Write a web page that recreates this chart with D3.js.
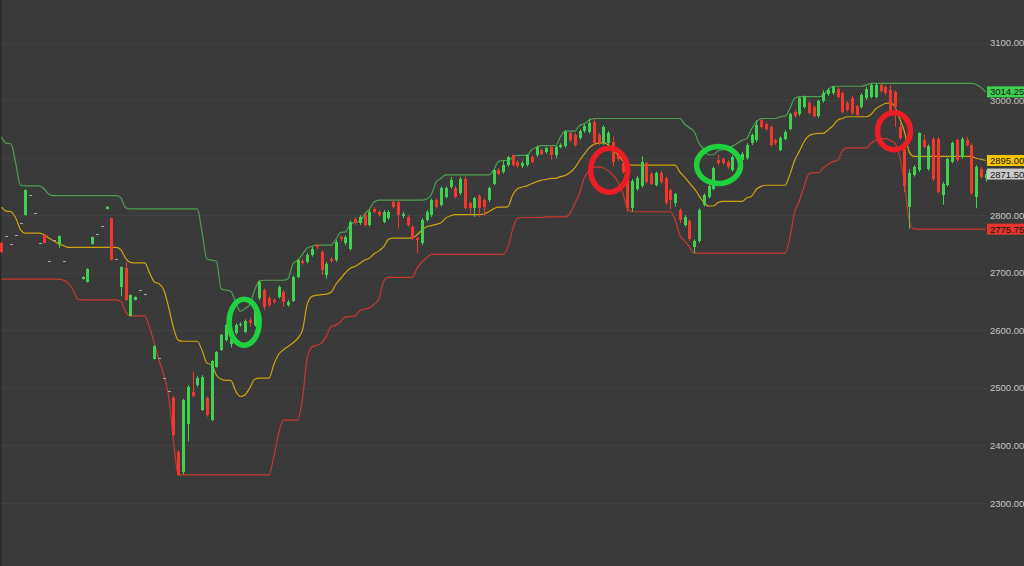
<!DOCTYPE html>
<html><head><meta charset="utf-8">
<script src="https://cdn.jsdelivr.net/npm/d3@7"></script>
<style>html,body{margin:0;padding:0;background:#3a3a3a;overflow:hidden}</style>
</head><body><svg id="c" width="1024" height="566"></svg>
<script>
const open=[
2752,2764,2750,2766,2786,2800,2835,2804,2752,2766,
2720,2757,2750,2720,null,null,null,2689,2684,2750,
2767,2781,2811,2795,2724,2675,2708,2625,2653,2670,
2663,null,2551,2552,2518,2494,2482,2389,2354,2438,
2492,2505,2462,2482,2444,2537,2566,2583,2576,2595,
2609,2597,2618,2609,2656,2670,2656,2652,2658,2667,
2644,2651,2693,2721,2719,2731,2748,2736,2696,2724,
2722,2762,2751,2742,2794,2786,2800,2783,2811,2806,
2789,2795,2823,2823,2798,2797,2780,2760,2751,2792,
2800,2826,2818,2832,2849,2847,2838,2862,2821,2812,
2833,2826,2826,2855,2878,2875,2887,2905,2893,2885,
2887,2901,2904,2913,2910,2919,2904,2919,2920,2942,
2940,2934,2946,2945,2962,2940,2925,2925,2928,2905,
2890,2865,2812,2845,2851,2890,2872,2853,2873,2864,
2843,2822,2809,2783,2790,2745,2755,2818,2832,2846,
2896,2897,2893,2878,2898,2896,2899,2925,2930,2965,
2958,2953,2930,2914,2933,2950,2980,2975,2988,2995,
2988,2972,2998,3010,3012,3020,3012,2995,3004,2989,
2988,3003,3006,3006,3026,3023,3018,3014,2954,2915,
2815,2870,2878,2930,2880,2933,2933,2835,2853,2893,
2930,2901,2930,2922,2832,2881,2864];
const close=[
2736,2764,2750,2766,2786,2844,2835,2804,2752,2752,
2720,2757,2764,2720,null,null,null,2693,2707,2762,
2767,2781,2815,2722,2724,2710,2653,2661,2658,2670,
2663,null,2572,2552,2518,2494,2418,2348,2479,2502,
2486,2517,2519,2453,2546,2562,2592,2609,2585,2609,
2611,2616,2612,2638,2684,2641,2644,2649,2676,2650,
2650,2693,2722,2717,2731,2742,2744,2705,2716,2720,
2754,2758,2762,2789,2786,2797,2783,2806,2806,2801,
2806,2806,2815,2800,2802,2783,2760,2757,2792,2806,
2826,2815,2847,2847,2861,2832,2862,2813,2812,2829,
2812,2815,2847,2878,2872,2887,2901,2887,2885,2891,
2904,2893,2919,2907,2916,2904,2919,2922,2945,2930,
2922,2946,2955,2960,2925,2925,2953,2943,2893,2897,
2875,2812,2860,2865,2892,2858,2855,2873,2857,2821,
2826,2836,2792,2797,2758,2755,2809,2835,2850,2882,
2890,2891,2884,2901,2900,2907,2922,2939,2956,2954,
2950,2922,2925,2934,2945,2975,2972,3003,3005,2978,
2972,2998,3012,3018,3022,3006,2980,2983,2977,2974,
3009,3020,3026,3027,3015,3012,2977,2988,2934,2850,
2873,2884,2942,2919,2920,2862,2841,2855,2897,2925,
2896,2933,2922,2838,2884,2867,2871.5];
const high=[
2754,2764,2750,2766,2786,2845,2835,2804,2752,2767,
2720,2757,2765,2720,null,null,null,2694,2708,2763,
2767,2781,2816,2796,2724,2711,2719,2662,2659,2670,
2663,null,2574,2552,2518,2494,2486,2392,2481,2505,
2528,2521,2522,2485,2548,2564,2594,2611,2590,2612,
2614,2619,2622,2640,2686,2673,2660,2655,2678,2670,
2653,2695,2724,2724,2734,2745,2750,2739,2719,2727,
2757,2765,2765,2791,2797,2800,2803,2809,2814,2809,
2809,2809,2826,2825,2806,2800,2783,2763,2795,2809,
2829,2829,2850,2850,2866,2850,2867,2868,2824,2832,
2836,2829,2850,2880,2882,2895,2903,2906,2896,2894,
2906,2904,2921,2916,2919,2921,2921,2925,2947,2945,
2943,2949,2958,2968,2968,2943,2956,2946,2937,2908,
2893,2868,2863,2868,2902,2893,2875,2876,2876,2867,
2846,2839,2812,2800,2793,2758,2812,2838,2853,2885,
2905,2900,2896,2904,2903,2910,2925,2942,2965,2968,
2961,2956,2933,2937,2948,2978,2983,3005,3008,2998,
2991,3001,3017,3021,3024,3023,3015,2998,3007,2992,
3012,3023,3029,3029,3029,3026,3026,3017,2960,2925,
2880,2887,2944,2940,2923,2936,2936,2858,2900,2928,
2933,2936,2936,2925,2887,2884,2878];
const low=[
2734,2764,2750,2766,2786,2799,2835,2804,2752,2751,
2720,2757,2743,2720,null,null,null,2688,2683,2749,
2767,2781,2810,2721,2724,2660,2652,2624,2652,2670,
2663,null,2549,2552,2518,2494,2416,2348,2350,2407,
2484,2502,2460,2450,2442,2535,2564,2580,2570,2592,
2606,2595,2606,2606,2652,2635,2640,2646,2655,2641,
2641,2649,2690,2714,2716,2728,2741,2696,2690,2717,
2719,2755,2748,2738,2783,2783,2780,2780,2803,2798,
2786,2792,2812,2777,2795,2780,2757,2734,2748,2789,
2797,2812,2815,2829,2846,2829,2835,2810,2800,2797,
2797,2798,2823,2852,2869,2872,2884,2884,2882,2882,
2884,2890,2901,2904,2907,2896,2899,2916,2917,2927,
2919,2931,2943,2942,2922,2922,2922,2922,2885,2894,
2872,2806,2806,2842,2848,2855,2852,2850,2854,2818,
2810,2815,2786,2780,2755,2734,2752,2815,2829,2843,
2887,2888,2881,2875,2895,2893,2896,2922,2927,2951,
2947,2919,2922,2911,2930,2947,2969,2972,2985,2975,
2969,2969,2995,3007,3009,3003,2977,2980,2974,2971,
2985,3000,3003,3003,3012,3009,2974,2953,2931,2840,
2776,2867,2875,2916,2877,2859,2838,2818,2850,2890,
2893,2898,2919,2835,2812,2864,2858];
const upper=[
2936,2925,2924,2890,2852,2851,2851,2851,2851,2845,
2836,2834,2834,2834,2834,2834,2834,2834,2834,2834,
2834,2834,2834,2834,2834,2830,2813,2811,2811,2811,
2811,2811,2811,2811,2811,2811,2811,2811,2811,2811,
2811,2811,2770,2724,2722,2720,2672,2670,2668,2650,
2633,2638,2645,2670,2686,2687,2687,2687,2687,2687,
2690,2715,2722,2732,2743,2746,2748,2748,2748,2748,
2758,2770,2771,2784,2788,2789,2802,2810,2823,2826,
2826,2826,2826,2826,2826,2826,2826,2826,2826,2828,
2836,2858,2864,2870,2870,2870,2870,2870,2870,2870,
2870,2870,2870,2878,2893,2895,2895,2900,2904,2904,
2904,2914,2918,2921,2921,2921,2921,2936,2946,2946,
2946,2956,2959,2965,2968,2968,2968,2968,2968,2968,
2968,2968,2968,2968,2968,2968,2968,2968,2968,2968,
2968,2968,2968,2958,2952,2945,2925,2915,2905,2905,
2912,2914,2916,2920,2925,2930,2933,2950,2962,2968,
2968,2968,2968,2971,2972,2985,3003,3006,3006,3006,
3006,3006,3008,3018,3024,3024,3024,3024,3024,3024,
3024,3026,3029,3029,3029,3029,3029,3029,3029,3029,
3029,3029,3029,3029,3029,3029,3029,3029,3029,3029,
3029,3029,3029,3029,3027,3022,3014.25];
const middle=[
2814,2807,2806,2795,2775,2769,2769,2769,2769,2766,
2760,2755,2750,2747,2744,2744,2744,2744,2744,2744,
2744,2744,2744,2744,2744,2740,2725,2718,2717,2717,
2717,2700,2684,2681,2670,2640,2605,2583,2581,2581,
2581,2581,2565,2543,2540,2522,2515,2513,2513,2495,
2485,2488,2500,2515,2517,2517,2517,2540,2558,2566,
2572,2578,2586,2600,2645,2659,2661,2662,2663,2666,
2680,2690,2700,2708,2711,2716,2722,2725,2733,2738,
2745,2758,2760,2760,2760,2760,2760,2766,2774,2780,
2782,2784,2787,2795,2799,2801,2801,2801,2801,2801,
2801,2802,2806,2811,2814,2814,2815,2835,2846,2849,
2851,2855,2858,2861,2862,2864,2864,2867,2869,2874,
2882,2895,2906,2917,2923,2925,2926,2922,2915,2905,
2895,2888,2887,2887,2887,2887,2887,2887,2887,2887,
2887,2887,2875,2866,2856,2846,2834,2822,2816,2816,
2822,2824,2824,2824,2824,2824,2830,2833,2845,2850,
2852,2852,2852,2852,2852,2870,2895,2911,2928,2938,
2941,2942,2942,2948,2955,2965,2968,2971,2971,2971,
2971,2971,2975,2985,2990,2994,2995,2988,2968,2945,
2910,2902,2902,2902,2902,2902,2902,2902,2902,2902,
2902,2902,2902,2902,2899,2897,2895];
const lower=[
2689,2689,2689,2689,2689,2689,2689,2689,2689,2689,
2689,2689,2689,2687,2682,2670,2654,2653,2653,2653,
2653,2653,2653,2653,2653,2650,2632,2625,2625,2625,
2625,2605,2578,2548,2522,2485,2410,2349,2349,2349,
2349,2349,2349,2349,2349,2349,2349,2349,2349,2349,
2349,2349,2349,2349,2349,2349,2349,2380,2420,2444,
2444,2444,2444,2480,2552,2571,2574,2578,2590,2606,
2609,2615,2623,2624,2625,2634,2637,2639,2645,2655,
2685,2692,2692,2692,2692,2692,2692,2708,2718,2726,
2732,2732,2732,2732,2732,2732,2732,2732,2732,2732,
2732,2732,2732,2732,2732,2732,2745,2775,2795,2796,
2796,2796,2796,2796,2797,2797,2797,2797,2797,2803,
2820,2838,2865,2878,2883,2884,2882,2877,2870,2858,
2840,2812,2806,2806,2806,2806,2806,2806,2806,2806,
2806,2792,2765,2755,2745,2734,2734,2734,2734,2734,
2734,2734,2734,2734,2734,2734,2734,2734,2734,2734,
2734,2734,2734,2734,2734,2760,2805,2825,2850,2872,
2874,2874,2882,2888,2893,2895,2912,2917,2917,2917,
2917,2917,2925,2930,2933,2933,2930,2925,2902,2855,
2790,2775.75,2775.75,2775.75,2775.75,2775.75,2775.75,2775.75,2775.75,2775.75,
2775.75,2775.75,2775.75,2775.75,2775.75,2775.75,2775.75];
const priceTicks=[2300,2400,2500,2600,2700,2800,2900,3000,3100];
// signal annotations: candle index, price level, type
const signalIndex=[50.8,127.2,150.1,186.8];
const signalPrice=[2614,2878,2887,2946];
const signalType=["buy","sell","buy","sell"];

const N=close.length;
const svg=d3.select("#c");
const W=1024,H=566;
svg.append("rect").attr("width",W).attr("height",H).attr("fill","#3a3a3a");
svg.append("rect").attr("x",0).attr("y",0).attr("width",1.5).attr("height",H).attr("fill","#2a2a2a");

const x=d3.scaleLinear().domain([0,N-1]).range([1.4,985.7]);
const y=d3.scaleLinear().domain([2300,3100]).range([503,42.5]);

// grid
svg.append("g").selectAll("line").data(priceTicks).join("line")
  .attr("x1",1.5).attr("x2",987).attr("y1",d=>Math.round(y(d))+0.5).attr("y2",d=>Math.round(y(d))+0.5)
  .attr("stroke","#424242").attr("stroke-width",1);

// axis
const axis=d3.axisRight(y).tickValues(priceTicks).tickFormat(d3.format(".2f")).tickSize(0).tickPadding(3);
const ag=svg.append("g").attr("transform","translate(987,0)").call(axis);
ag.select(".domain").remove();
ag.selectAll("text").attr("fill","#c4c4c4").style("font-family","'Liberation Sans',Arial,sans-serif").style("font-size","9.5px");

// channel lines
const line=d3.line().x((d,i)=>x(i)).y(d=>y(d)).curve(d3.curveMonotoneX);
svg.append("path").attr("d",line(upper)).attr("fill","none").attr("stroke","#4e9f4f").attr("stroke-width",1.2);
svg.append("path").attr("d",line(middle)).attr("fill","none").attr("stroke","#cfa20e").attr("stroke-width",1.2);
svg.append("path").attr("d",line(lower)).attr("fill","none").attr("stroke","#c8392d").attr("stroke-width",1.2);

// candles
const idx=d3.range(N).filter(i=>open[i]!==null);
const col=i=>close[i]>open[i]?"#3fd14f":(close[i]<open[i]?"#f2382d":"#a6a6a6");
const cg=svg.append("g");
cg.selectAll("line").data(idx.filter(i=>high[i]!==low[i])).join("line")
  .attr("x1",i=>Math.round(x(i))+0.5).attr("x2",i=>Math.round(x(i))+0.5)
  .attr("y1",i=>y(high[i])).attr("y2",i=>y(low[i]))
  .attr("stroke",col).attr("stroke-width",1);
cg.selectAll("rect").data(idx).join("rect")
  .attr("x",i=>Math.round(x(i))-1).attr("width",3)
  .attr("y",i=>y(Math.max(open[i],close[i])))
  .attr("height",i=>Math.max(1,y(Math.min(open[i],close[i]))-y(Math.max(open[i],close[i]))))
  .attr("fill",col).attr("shape-rendering","crispEdges");

// signal rings
const ringRx=[15,18.5,22,16.5], ringRy=[23,22,18.5,18.5];
svg.append("g").selectAll("ellipse").data(d3.range(signalIndex.length)).join("ellipse")
  .attr("cx",k=>x(signalIndex[k])).attr("cy",k=>y(signalPrice[k]))
  .attr("rx",k=>ringRx[k]).attr("ry",k=>ringRy[k])
  .attr("fill","none").attr("stroke",k=>signalType[k]==="buy"?"#1fd23d":"#ec1d25").attr("stroke-width",5.5);

// value boxes
const boxes=[
  {v:upper[N-1],fill:"#3fcf4f"},
  {v:middle[N-1],fill:"#f7c600"},
  {v:close[N-1],fill:"#c8c8c8"},
  {v:lower[N-1],fill:"#e5352c"}];
const bg=svg.append("g");
boxes.forEach(b=>{
  const yy=y(b.v);
  bg.append("rect").attr("x",987).attr("y",yy-5.5).attr("width",37).attr("height",11).attr("fill",b.fill);
  bg.append("text").attr("x",990).attr("y",yy+3.5).text(d3.format(".2f")(b.v))
    .attr("fill","#151515").style("font-family","'Liberation Sans',Arial,sans-serif").style("font-size","9.5px");
});
</script></body></html>
